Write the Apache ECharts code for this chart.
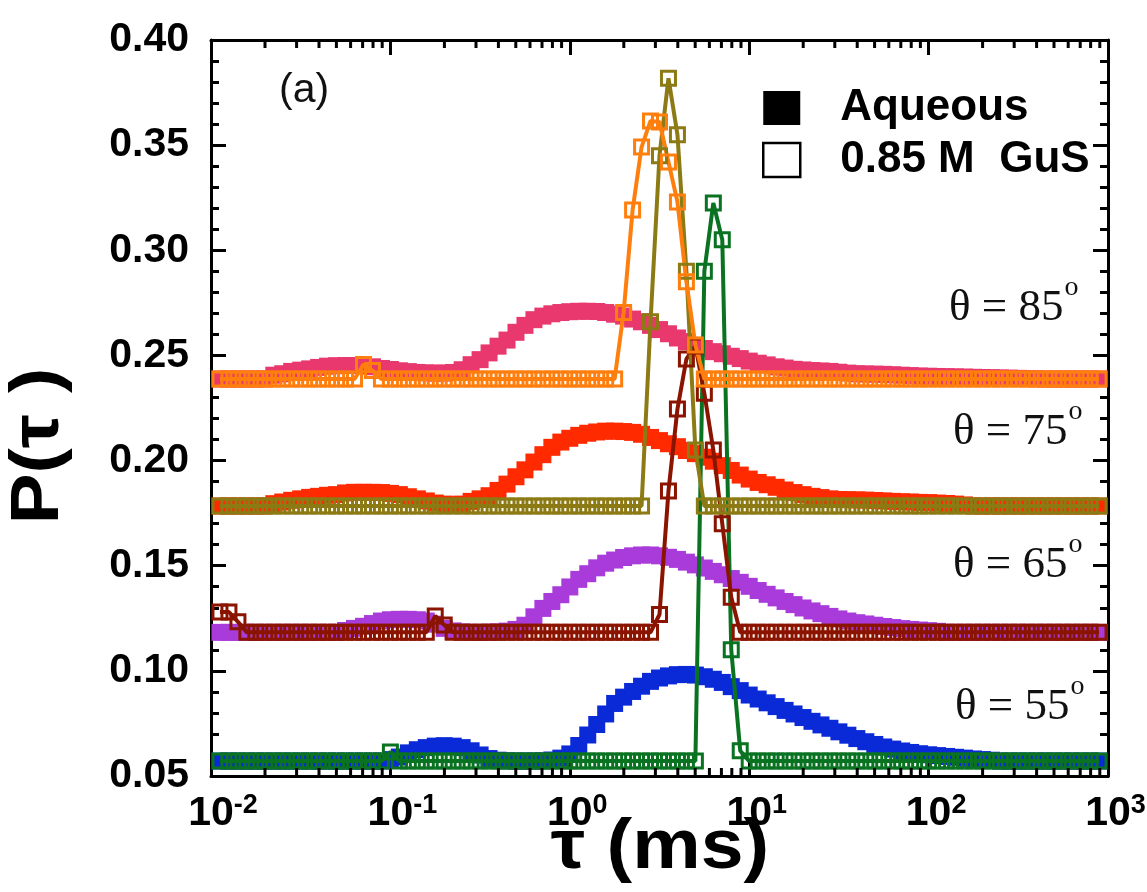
<!DOCTYPE html>
<html>
<head>
<meta charset="utf-8">
<script src="https://cdn.jsdelivr.net/npm/echarts@6/dist/echarts.min.js"></script>
<style>
  html, body { margin: 0; padding: 0; background: #fff; }
  #chart { width: 1147px; height: 892px; }
</style>
</head>
<body>
<div id="chart"></div>
<script>
// Relaxation-time grid (ms), log spaced
const tau = [
  0.01122, 0.01259, 0.01413, 0.01585, 0.01778, 0.01995, 0.02239, 0.02512, 0.02818,
  0.03162, 0.03548, 0.03981, 0.04467, 0.05012, 0.05623, 0.0631, 0.07079, 0.07943, 0.08913,
  0.1, 0.1122, 0.1259, 0.1413, 0.1585, 0.1778, 0.1995, 0.2239, 0.2512, 0.2818,
  0.3162, 0.3548, 0.3981, 0.4467, 0.5012, 0.5623, 0.631, 0.7079, 0.7943, 0.8913,
  1, 1.122, 1.259, 1.413, 1.585, 1.778, 1.995, 2.239, 2.512, 2.818,
  3.162, 3.548, 3.981, 4.467, 5.012, 5.623, 6.31, 7.079, 7.943, 8.913,
  10, 11.22, 12.59, 14.13, 15.85, 17.78, 19.95, 22.39, 25.12, 28.18,
  31.62, 35.48, 39.81, 44.67, 50.12, 56.23, 63.1, 70.79, 79.43, 89.13,
  100, 112.2, 125.9, 141.3, 158.5, 177.8, 199.5, 223.9, 251.2, 281.8,
  316.2, 354.8, 398.1, 446.7, 501.2, 562.3, 631, 707.9, 794.3, 891.3
];

// Aqueous (filled squares), offset distributions
const aqueous85 = [
  0.2388, 0.2388, 0.2388, 0.2388, 0.2388, 0.2388, 0.2406, 0.2413, 0.2424,
  0.2430, 0.2436, 0.2443, 0.2449, 0.2451, 0.2452, 0.2452, 0.2450, 0.2446, 0.2438,
  0.2433, 0.2427, 0.2423, 0.2419, 0.2417, 0.2416, 0.2416, 0.2419, 0.2432, 0.2456,
  0.2480, 0.2512, 0.2544, 0.2573, 0.2610, 0.2643, 0.2670, 0.2687, 0.2698, 0.2704,
  0.2708, 0.2710, 0.2710, 0.2709, 0.2704, 0.2696, 0.2687, 0.2673, 0.2660, 0.2643,
  0.2623, 0.2603, 0.2583, 0.2566, 0.2548, 0.2533, 0.2518, 0.2508, 0.2496, 0.2485,
  0.2473, 0.2463, 0.2455, 0.2446, 0.2440, 0.2434, 0.2431, 0.2428, 0.2426, 0.2424,
  0.2420, 0.2416, 0.2413, 0.2412, 0.2411, 0.2410, 0.2408, 0.2406, 0.2404, 0.2402,
  0.2401, 0.2400, 0.2399, 0.2398, 0.2397, 0.2396, 0.2395, 0.2394, 0.2393, 0.2392,
  0.2391, 0.2390, 0.2389, 0.2388, 0.2388, 0.2388, 0.2388, 0.2388, 0.2388, 0.2388
];
const aqueous75 = [
  0.1784, 0.1784, 0.1784, 0.1784, 0.1784, 0.1784, 0.1795, 0.1803, 0.1811,
  0.1818, 0.1825, 0.1830, 0.1835, 0.1838, 0.1846, 0.1849, 0.1849, 0.1849, 0.1848,
  0.1844, 0.1838, 0.1828, 0.1818, 0.1808, 0.1798, 0.1793, 0.1790, 0.1793, 0.1806,
  0.1818, 0.1833, 0.1858, 0.1888, 0.1923, 0.1956, 0.1993, 0.2028, 0.2063, 0.2088,
  0.2106, 0.2120, 0.2130, 0.2136, 0.2140, 0.2140, 0.2138, 0.2134, 0.2125, 0.2110,
  0.2095, 0.2080, 0.2066, 0.2048, 0.2033, 0.2016, 0.1997, 0.1976, 0.1953, 0.1931,
  0.1912, 0.1896, 0.1885, 0.1873, 0.1860, 0.1848, 0.1838, 0.1830, 0.1824, 0.1818,
  0.1815, 0.1814, 0.1813, 0.1812, 0.1810, 0.1808, 0.1806, 0.1804, 0.1803, 0.1801,
  0.1800, 0.1798, 0.1796, 0.1793, 0.1789, 0.1784, 0.1784, 0.1784, 0.1784, 0.1784,
  0.1784, 0.1784, 0.1784, 0.1784, 0.1784, 0.1784, 0.1784, 0.1784, 0.1784, 0.1784
];
const aqueous65 = [
  0.1183, 0.1183, 0.1183, 0.1183, 0.1183, 0.1183, 0.1183, 0.1183, 0.1183,
  0.1183, 0.1183, 0.1183, 0.1183, 0.1183, 0.1192, 0.1202, 0.1212, 0.1225, 0.1237,
  0.1243, 0.1245, 0.1245, 0.1243, 0.1237, 0.1222, 0.1202, 0.1190, 0.1185, 0.1183,
  0.1183, 0.1184, 0.1185, 0.1189, 0.1197, 0.1217, 0.1257, 0.1297, 0.1330, 0.1362,
  0.1399, 0.1435, 0.1462, 0.1490, 0.1512, 0.1527, 0.1539, 0.1547, 0.1551, 0.1551,
  0.1547, 0.1540, 0.1530, 0.1517, 0.1504, 0.1489, 0.1473, 0.1457, 0.1439, 0.1421,
  0.1402, 0.1382, 0.1364, 0.1347, 0.1330, 0.1315, 0.1299, 0.1285, 0.1272, 0.1259,
  0.1247, 0.1237, 0.1229, 0.1223, 0.1217, 0.1211, 0.1206, 0.1201, 0.1197, 0.1194,
  0.1191, 0.1188, 0.1183, 0.1183, 0.1183, 0.1183, 0.1183, 0.1183, 0.1183, 0.1183,
  0.1183, 0.1183, 0.1183, 0.1183, 0.1183, 0.1183, 0.1183, 0.1183, 0.1183, 0.1183
];
const aqueous55 = [
  0.0571, 0.0571, 0.0571, 0.0571, 0.0571, 0.0571, 0.0571, 0.0571, 0.0571,
  0.0571, 0.0571, 0.0571, 0.0571, 0.0571, 0.0571, 0.0571, 0.0571, 0.0571, 0.0571,
  0.0578, 0.0590, 0.0610, 0.0625, 0.0635, 0.0642, 0.0644, 0.0642, 0.0635, 0.0620,
  0.0600, 0.0583, 0.0575, 0.0572, 0.0571, 0.0571, 0.0571, 0.0572, 0.0576, 0.0585,
  0.0605, 0.0645, 0.0695, 0.0745, 0.0795, 0.0845, 0.0875, 0.0902, 0.0927, 0.0950,
  0.0966, 0.0976, 0.0982, 0.0983, 0.0980, 0.0972, 0.0960, 0.0945, 0.0925, 0.0906,
  0.0885, 0.0866, 0.0848, 0.0830, 0.0812, 0.0795, 0.0778, 0.0760, 0.0743, 0.0727,
  0.0710, 0.0694, 0.0678, 0.0663, 0.0650, 0.0638, 0.0628, 0.0619, 0.0612, 0.0606,
  0.0601, 0.0597, 0.0593, 0.0589, 0.0585, 0.0581, 0.0578, 0.0575, 0.0571, 0.0571,
  0.0571, 0.0571, 0.0571, 0.0571, 0.0571, 0.0571, 0.0571, 0.0571, 0.0571, 0.0571
];

// 0.85 M GuS (open squares), offset distributions
const gus85 = [
  0.2388, 0.2388, 0.2388, 0.2388, 0.2388, 0.2388, 0.2388, 0.2388, 0.2388,
  0.2388, 0.2388, 0.2388, 0.2388, 0.2388, 0.2388, 0.2388, 0.2457, 0.2428, 0.2388,
  0.2388, 0.2388, 0.2388, 0.2388, 0.2388, 0.2388, 0.2388, 0.2388, 0.2388, 0.2388,
  0.2388, 0.2388, 0.2388, 0.2388, 0.2388, 0.2388, 0.2388, 0.2388, 0.2388, 0.2388,
  0.2388, 0.2388, 0.2388, 0.2388, 0.2388, 0.2388, 0.2704, 0.3192, 0.3491, 0.3615,
  0.3610, 0.3420, 0.3230, 0.2850, 0.2550, 0.2388, 0.2388, 0.2388, 0.2388, 0.2388,
  0.2388, 0.2388, 0.2388, 0.2388, 0.2388, 0.2388, 0.2388, 0.2388, 0.2388, 0.2388,
  0.2388, 0.2388, 0.2388, 0.2388, 0.2388, 0.2388, 0.2388, 0.2388, 0.2388, 0.2388,
  0.2388, 0.2388, 0.2388, 0.2388, 0.2388, 0.2388, 0.2388, 0.2388, 0.2388, 0.2388,
  0.2388, 0.2388, 0.2388, 0.2388, 0.2388, 0.2388, 0.2388, 0.2388, 0.2388, 0.2388
];
const gus75 = [
  0.1784, 0.1784, 0.1784, 0.1784, 0.1784, 0.1784, 0.1784, 0.1784, 0.1784,
  0.1784, 0.1784, 0.1784, 0.1784, 0.1784, 0.1784, 0.1784, 0.1784, 0.1784, 0.1784,
  0.1784, 0.1784, 0.1784, 0.1784, 0.1784, 0.1784, 0.1784, 0.1784, 0.1784, 0.1784,
  0.1784, 0.1784, 0.1784, 0.1784, 0.1784, 0.1784, 0.1784, 0.1784, 0.1784, 0.1784,
  0.1784, 0.1784, 0.1784, 0.1784, 0.1784, 0.1784, 0.1784, 0.1784, 0.1784, 0.2660,
  0.3450, 0.3818, 0.3550, 0.2900, 0.2050, 0.1784, 0.1784, 0.1784, 0.1784, 0.1784,
  0.1784, 0.1784, 0.1784, 0.1784, 0.1784, 0.1784, 0.1784, 0.1784, 0.1784, 0.1784,
  0.1784, 0.1784, 0.1784, 0.1784, 0.1784, 0.1784, 0.1784, 0.1784, 0.1784, 0.1784,
  0.1784, 0.1784, 0.1784, 0.1784, 0.1784, 0.1784, 0.1784, 0.1784, 0.1784, 0.1784,
  0.1784, 0.1784, 0.1784, 0.1784, 0.1784, 0.1784, 0.1784, 0.1784, 0.1784, 0.1784
];
const gus65 = [
  0.1280, 0.1280, 0.1233, 0.1183, 0.1183, 0.1183, 0.1183, 0.1183, 0.1183,
  0.1183, 0.1183, 0.1183, 0.1183, 0.1183, 0.1183, 0.1183, 0.1183, 0.1183, 0.1183,
  0.1183, 0.1183, 0.1183, 0.1183, 0.1183, 0.1261, 0.1218, 0.1183, 0.1183, 0.1183,
  0.1183, 0.1183, 0.1183, 0.1183, 0.1183, 0.1183, 0.1183, 0.1183, 0.1183, 0.1183,
  0.1183, 0.1183, 0.1183, 0.1183, 0.1183, 0.1183, 0.1183, 0.1183, 0.1183, 0.1183,
  0.1268, 0.1855, 0.2245, 0.2483, 0.2545, 0.2320, 0.2050, 0.1700, 0.1350, 0.1183,
  0.1183, 0.1183, 0.1183, 0.1183, 0.1183, 0.1183, 0.1183, 0.1183, 0.1183, 0.1183,
  0.1183, 0.1183, 0.1183, 0.1183, 0.1183, 0.1183, 0.1183, 0.1183, 0.1183, 0.1183,
  0.1183, 0.1183, 0.1183, 0.1183, 0.1183, 0.1183, 0.1183, 0.1183, 0.1183, 0.1183,
  0.1183, 0.1183, 0.1183, 0.1183, 0.1183, 0.1183, 0.1183, 0.1183, 0.1183, 0.1183
];
const gus55 = [
  0.0571, 0.0571, 0.0571, 0.0571, 0.0571, 0.0571, 0.0571, 0.0571, 0.0571,
  0.0571, 0.0571, 0.0571, 0.0571, 0.0571, 0.0571, 0.0571, 0.0571, 0.0571, 0.0571,
  0.0614, 0.0571, 0.0571, 0.0571, 0.0571, 0.0571, 0.0571, 0.0571, 0.0571, 0.0571,
  0.0571, 0.0571, 0.0571, 0.0571, 0.0571, 0.0571, 0.0571, 0.0571, 0.0571, 0.0571,
  0.0571, 0.0571, 0.0571, 0.0571, 0.0571, 0.0571, 0.0571, 0.0571, 0.0571, 0.0571,
  0.0571, 0.0571, 0.0571, 0.0571, 0.0571, 0.2900, 0.3225, 0.3050, 0.1100, 0.0620,
  0.0571, 0.0571, 0.0571, 0.0571, 0.0571, 0.0571, 0.0571, 0.0571, 0.0571, 0.0571,
  0.0571, 0.0571, 0.0571, 0.0571, 0.0571, 0.0571, 0.0571, 0.0571, 0.0571, 0.0571,
  0.0571, 0.0571, 0.0571, 0.0571, 0.0571, 0.0571, 0.0571, 0.0571, 0.0571, 0.0571,
  0.0571, 0.0571, 0.0571, 0.0571, 0.0571, 0.0571, 0.0571, 0.0571, 0.0571, 0.0571
];

const yTicks = { min: 0.05, max: 0.40, step: 0.05 };
const xRange = { min: 0.01, max: 1000 };
const angleLabels = ['θ = 85', 'θ = 75', 'θ = 65', 'θ = 55'];
const legendNames = ['Aqueous', '0.85 M  GuS'];

const SANS = '"Liberation Sans", Arial, Helvetica, sans-serif';
const SERIF = '"Liberation Serif", "Times New Roman", Times, serif';

const pairs = (ys) => tau.map((t, i) => [t, ys[i]]);

function filled(name, ys, color) {
  return {
    type: 'scatter', name: name, data: pairs(ys),
    symbol: 'rect', symbolSize: 17,
    itemStyle: { color: color, opacity: 1 },
    silent: true, z: 2
  };
}
function open(name, ys, color) {
  return {
    type: 'line', name: name, data: pairs(ys),
    symbol: 'rect', symbolSize: 14, showAllSymbol: true,
    lineStyle: { color: color, width: 4 },
    itemStyle: { color: 'rgba(0,0,0,0)', borderColor: color, borderWidth: 3, opacity: 1 },
    silent: true, z: 3
  };
}

// minor decade ticks (2..9 x 10^k) on the log axis
const minorTau = [];
for (let k = -2; k <= 2; k++) {
  for (let m = 2; m <= 9; m++) minorTau.push(m * Math.pow(10, k));
}

const axisLine = { show: true, onZero: false, lineStyle: { color: '#000', width: 3 } };
const axisTick = { show: true, inside: true, length: 15, lineStyle: { color: '#000', width: 3 } };

// small raised "o" used as the degree mark
const angleRich = {
  n: { fontFamily: SERIF, fontSize: 45, fill: '#111' },
  s: { fontFamily: SERIF, fontSize: 28, fill: '#111', padding: [0, 0, 40, 1] }
};

const chart = echarts.init(document.getElementById('chart'), null, { renderer: 'canvas' });

chart.setOption({
  backgroundColor: '#fff',
  animation: false,
  grid: { left: 211, top: 40, width: 897, height: 736, containLabel: false, outerBoundsMode: 'none' },
  legend: {
    orient: 'vertical', left: 762, top: 86, padding: 0,
    itemWidth: 37, itemHeight: 34, itemGap: 8,
    selectedMode: false,
    itemStyle: { opacity: 1 },
    textStyle: { fontFamily: SANS, fontSize: 44, fontWeight: 'bold', color: '#000', lineHeight: 42, padding: [0, 0, 0, 35] },
    data: [
      { name: legendNames[0], icon: 'rect', itemStyle: { color: '#000', borderWidth: 0, opacity: 1 } },
      { name: legendNames[1], icon: 'rect', itemStyle: { color: '#fff', borderColor: '#000', borderWidth: 2.5, opacity: 1 } }
    ]
  },
  xAxis: [
    {
      type: 'log', logBase: 10, min: xRange.min, max: xRange.max, position: 'bottom',
      axisLine: axisLine, axisTick: axisTick, splitLine: { show: false },
      axisLabel: {
        margin: 16, color: '#000',
        formatter: function (v) {
          const e = Math.round(Math.log10(v));
          const pad = e < 0 ? 'pw' : 'pn';
          return '{' + pad + '|}{b|10}{s|' + e + '}';
        },
        rich: {
          b: { fontFamily: SANS, fontSize: 41, fontWeight: 'bold', color: '#000', lineHeight: 44 },
          s: { fontFamily: SANS, fontSize: 27, fontWeight: 'bold', color: '#000', verticalAlign: 'top' },
          pw: { width: 24 },
          pn: { width: 15 }
        }
      }
    },
    {
      type: 'log', logBase: 10, min: xRange.min, max: xRange.max, position: 'top',
      axisLine: axisLine, axisTick: axisTick, splitLine: { show: false }, axisLabel: { show: false }
    }
  ],
  yAxis: [
    {
      type: 'value', min: yTicks.min, max: yTicks.max, interval: yTicks.step, position: 'left',
      axisLine: axisLine, axisTick: axisTick, splitLine: { show: false },
      minorTick: { show: true, splitNumber: 5, length: 8, lineStyle: { color: '#000', width: 3 } },
      axisLabel: {
        margin: 22, color: '#000', fontFamily: SANS, fontSize: 41, fontWeight: 'bold',
        formatter: (v) => v.toFixed(2)
      }
    },
    {
      type: 'value', min: yTicks.min, max: yTicks.max, interval: yTicks.step, position: 'right',
      axisLine: axisLine, axisTick: axisTick, splitLine: { show: false },
      minorTick: { show: true, splitNumber: 5, length: 8, lineStyle: { color: '#000', width: 3 } },
      axisLabel: { show: false }
    }
  ],
  series: [
    filled('aq85', aqueous85, '#e8386e'),
    filled('aq75', aqueous75, '#ff2a00'),
    filled('aq65', aqueous65, '#a93bdb'),
    filled('aq55', aqueous55, '#0a2ad8'),
    open('gus55', gus55, '#0a7322'),
    open('gus65', gus65, '#8b1400'),
    open('gus75', gus75, '#8c7a14'),
    open('gus85', gus85, '#ff7f0e'),
    { type: 'scatter', name: legendNames[0], data: [], symbol: 'rect', itemStyle: { color: '#000', opacity: 1 } },
    { type: 'scatter', name: legendNames[1], data: [], symbol: 'rect', itemStyle: { color: '#fff', borderColor: '#000', borderWidth: 2.5, opacity: 1 } },
    {
      type: 'custom', name: 'minorTicks', silent: true, clip: false, z: 10,
      data: minorTau.map((t) => [t, yTicks.min]),
      renderItem: function (params, api) {
        const t = api.value(0);
        const b = api.coord([t, yTicks.min]);
        const top = api.coord([t, yTicks.max]);
        const st = { stroke: '#000', lineWidth: 3 };
        return {
          type: 'group',
          children: [
            { type: 'line', shape: { x1: b[0], y1: b[1], x2: b[0], y2: b[1] - 8 }, style: st },
            { type: 'line', shape: { x1: top[0], y1: top[1], x2: top[0], y2: top[1] + 8 }, style: st }
          ]
        };
      }
    }
  ],
  graphic: [
    { type: 'text', left: 279, top: 70, style: { text: '(a)', font: '41px ' + SANS, fill: '#111' } },
    { type: 'text', x: 949, y: 308, style: { text: '{n|' + angleLabels[0] + '}{s|o}', verticalAlign: 'middle', rich: angleRich } },
    { type: 'text', x: 953, y: 432, style: { text: '{n|' + angleLabels[1] + '}{s|o}', verticalAlign: 'middle', rich: angleRich } },
    { type: 'text', x: 953, y: 565, style: { text: '{n|' + angleLabels[2] + '}{s|o}', verticalAlign: 'middle', rich: angleRich } },
    { type: 'text', x: 955, y: 707, style: { text: '{n|' + angleLabels[3] + '}{s|o}', verticalAlign: 'middle', rich: angleRich } },
    { type: 'text', x: 660, y: 849, scaleX: 1.1, style: { text: 'τ (ms)', font: 'bold 70px ' + SANS, fill: '#000', align: 'center', verticalAlign: 'middle' } },
    { type: 'text', x: 39, y: 446, rotation: Math.PI / 2, scaleX: 1.12, style: { text: 'P(τ )', font: 'bold 68px ' + SANS, fill: '#000', align: 'center', verticalAlign: 'middle' } }
  ]
});
</script>
</body>
</html>
